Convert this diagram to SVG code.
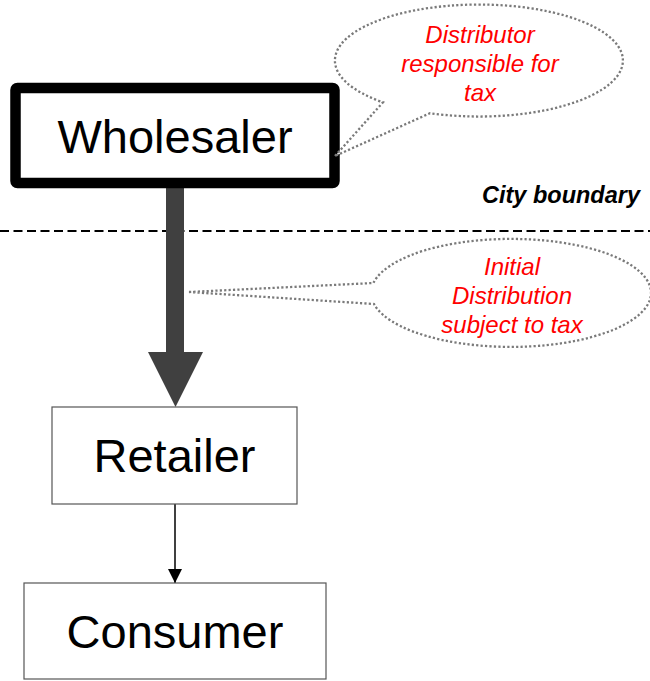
<svg xmlns="http://www.w3.org/2000/svg" width="650" height="681" viewBox="0 0 650 681">
  <style>
    .box { fill: #ffffff; stroke: #555555; stroke-width: 1.2; }
    .label { font-family: "Liberation Sans", Arial, sans-serif; font-size: 47px; fill: #000000; text-anchor: middle; }
    .note { font-family: "Liberation Sans", Arial, sans-serif; font-size: 24px; font-style: italic; fill: #ff0000; text-anchor: middle; }
    .callout { fill: #ffffff; stroke: #7a7a7a; stroke-width: 2.3; stroke-dasharray: 2.2 2.2; }
  </style>
  <defs>
    <marker id="arrowhead" viewBox="0 0 14 14" refX="14" refY="7" markerWidth="14" markerHeight="14" markerUnits="userSpaceOnUse" orient="auto">
      <path d="M0,0 L14,7 L0,14 Z" fill="#000000"/>
    </marker>
  </defs>
  <rect width="650" height="681" fill="#ffffff"/>

  <!-- city boundary -->
  <g id="boundary">
    <line x1="0" y1="231" x2="650" y2="231" stroke="#000000" stroke-width="2" stroke-dasharray="9 4.5"/>
    <text x="640" y="203" font-family="'Liberation Sans', Arial, sans-serif" font-size="23.5" font-weight="bold" font-style="italic" text-anchor="end" fill="#000000">City boundary</text>
  </g>

  <!-- connectors -->
  <g id="connectors">
    <polygon points="166,188 184,188 184,352 203,352 175.5,407 148,352 166,352" fill="#404040"/>
    <line x1="175" y1="504" x2="175" y2="583" stroke="#000000" stroke-width="1.5" marker-end="url(#arrowhead)"/>
  </g>

  <!-- nodes -->
  <g id="wholesaler">
    <rect x="15.5" y="88" width="319" height="95" rx="2" fill="#ffffff" stroke="#000000" stroke-width="10.5"/>
    <text class="label" x="175" y="153">Wholesaler</text>
  </g>
  <g id="retailer">
    <rect class="box" x="52" y="407" width="245" height="97"/>
    <text class="label" x="174.5" y="472">Retailer</text>
  </g>
  <g id="consumer">
    <rect class="box" x="24" y="583" width="302" height="96"/>
    <text class="label" x="175" y="648">Consumer</text>
  </g>

  <!-- callouts -->
  <g id="note-distributor">
    <path class="callout" d="M335,156 L383,102.3 A144,56 0 1 1 430,113.2 Z"/>
    <text class="note" x="480" y="43">Distributor</text>
    <text class="note" x="480" y="72">responsible for</text>
    <text class="note" x="480" y="101">tax</text>
  </g>
  <g id="note-initial">
    <path class="callout" d="M189,292 L373.4,283 A140,54 0 1 1 374,304 Z"/>
    <text class="note" x="512" y="275">Initial</text>
    <text class="note" x="512" y="304">Distribution</text>
    <text class="note" x="512" y="333">subject to tax</text>
  </g>
</svg>
